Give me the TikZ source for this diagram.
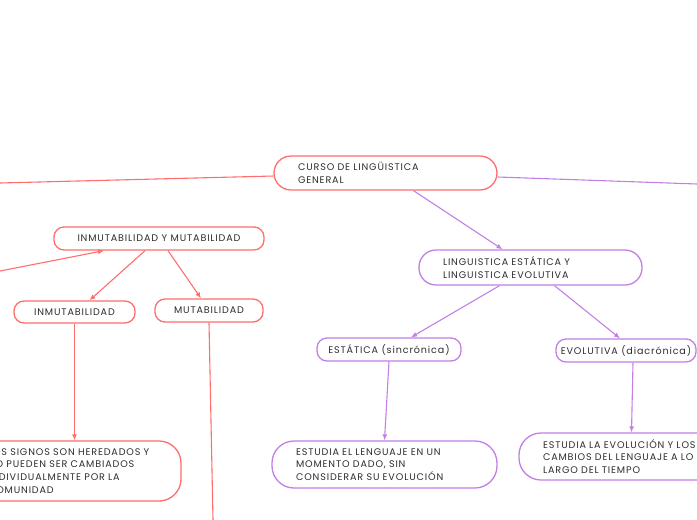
\documentclass[tikz,border=0pt]{standalone}
\usepackage{fontspec}
\setmainfont{Poppins}[LetterSpace=9]
\usetikzlibrary{arrows.meta}
\definecolor{coralline}{HTML}{FF6D6D}
\definecolor{lilacline}{HTML}{C27FE6}
\definecolor{inkgray}{HTML}{2E2E2E}

\begin{document}
\begin{tikzpicture}[x=1pt,y=-1pt,
    topic/.style={draw=#1,line width=1.3pt,fill=white,text=inkgray,
      font=\fontsize{9.6}{12.8}\selectfont,inner ysep=0pt},
    pill/.style={topic=#1,align=center,inner xsep=4pt,rounded corners=10},
    textpill/.style={topic=#1,align=left,inner xsep=24pt},
    link/.style={line width=1.1pt},
    tip/.style={link,-{Latex[length=6pt,width=5pt]}}]
    \useasboundingbox (0,0) rectangle (697,520);
    \clip (0,0) rectangle (697,520);
    % root
    \node[textpill=coralline,minimum width=223,minimum height=34,
      text width=175,rounded corners=17] (curso) at (385.5,173)
      {CURSO DE LINGÜISTICA\\GENERAL};
    % left branch
    \node[pill=coralline,minimum width=210,minimum height=23] (inmumu)
      at (159,238.5) {INMUTABILIDAD Y MUTABILIDAD};
    \node[pill=coralline,minimum width=121,minimum height=22] (inmu)
      at (74.5,312) {INMUTABILIDAD};
    \node[pill=coralline,minimum width=108,minimum height=23] (muta)
      at (209,310.5) {MUTABILIDAD};
    \node[textpill=coralline,minimum width=217,minimum height=60,
      text width=169,rounded corners=22] (signos) at (72.5,471)
      {LOS SIGNOS SON HEREDADOS Y\\NO PUEDEN SER CAMBIADOS\\INDIVIDUALMENTE POR LA\\COMUNIDAD};
    % right branch
    \node[textpill=lilacline,minimum width=223,minimum height=35,
      text width=175,rounded corners=17] (estevo) at (530.5,267.5)
      {LINGUISTICA ESTÁTICA Y\\LINGUISTICA EVOLUTIVA};
    \node[pill=lilacline,minimum width=144,minimum height=23] (estat)
      at (389,349.5) {ESTÁTICA (sincrónica)};
    \node[pill=lilacline,minimum width=140,minimum height=23] (evolu)
      at (626,350.5) {EVOLUTIVA (diacrónica)};
    \node[textpill=lilacline,minimum width=225,minimum height=47,
      text width=177,rounded corners=22] (sincro) at (384.5,464.5)
      {ESTUDIA EL LENGUAJE EN UN\\MOMENTO DADO, SIN\\CONSIDERAR SU EVOLUCIÓN};
    \node[textpill=lilacline,minimum width=225,minimum height=47,
      text width=177,rounded corners=22] (diacro) at (631.5,456.5)
      {ESTUDIA LA EVOLUCIÓN Y LOS\\CAMBIOS DEL LENGUAJE A LO\\LARGO DEL TIEMPO};
    % loose ends
    \coordinate (offleft) at (0,183);
    \coordinate (offright) at (697,184);
    \coordinate (offlow) at (0,271);
    \coordinate (offbottom) at (213,520);
    % connectors
    \draw[link,coralline] ([yshift=-3]curso.west) -- (offleft);
    \draw[link,lilacline] ([yshift=-4]curso.east) -- (offright);
    \draw[tip,lilacline] ([xshift=28]curso.south) -- ([xshift=-28]estevo.north);
    \draw[tip,coralline] (offlow) -- ([xshift=-55]inmumu.south);
    \draw[tip,coralline] ([xshift=-14]inmumu.south) -- ([xshift=15]inmu.north);
    \draw[tip,coralline] ([xshift=9]inmumu.south) -- ([xshift=-8]muta.north);
    \draw[tip,coralline] (inmu.south) -- ([xshift=2]signos.north);
    \draw[link,coralline] (muta.south) -- (offbottom);
    \draw[tip,lilacline] ([xshift=-31]estevo.south) -- ([xshift=22]estat.north);
    \draw[tip,lilacline] ([xshift=24]estevo.south) -- ([xshift=-6]evolu.north);
    \draw[tip,lilacline] (estat.south) -- (sincro.north);
    \draw[tip,lilacline] ([xshift=7]evolu.south) -- (diacro.north);
\end{tikzpicture}
\end{document}
